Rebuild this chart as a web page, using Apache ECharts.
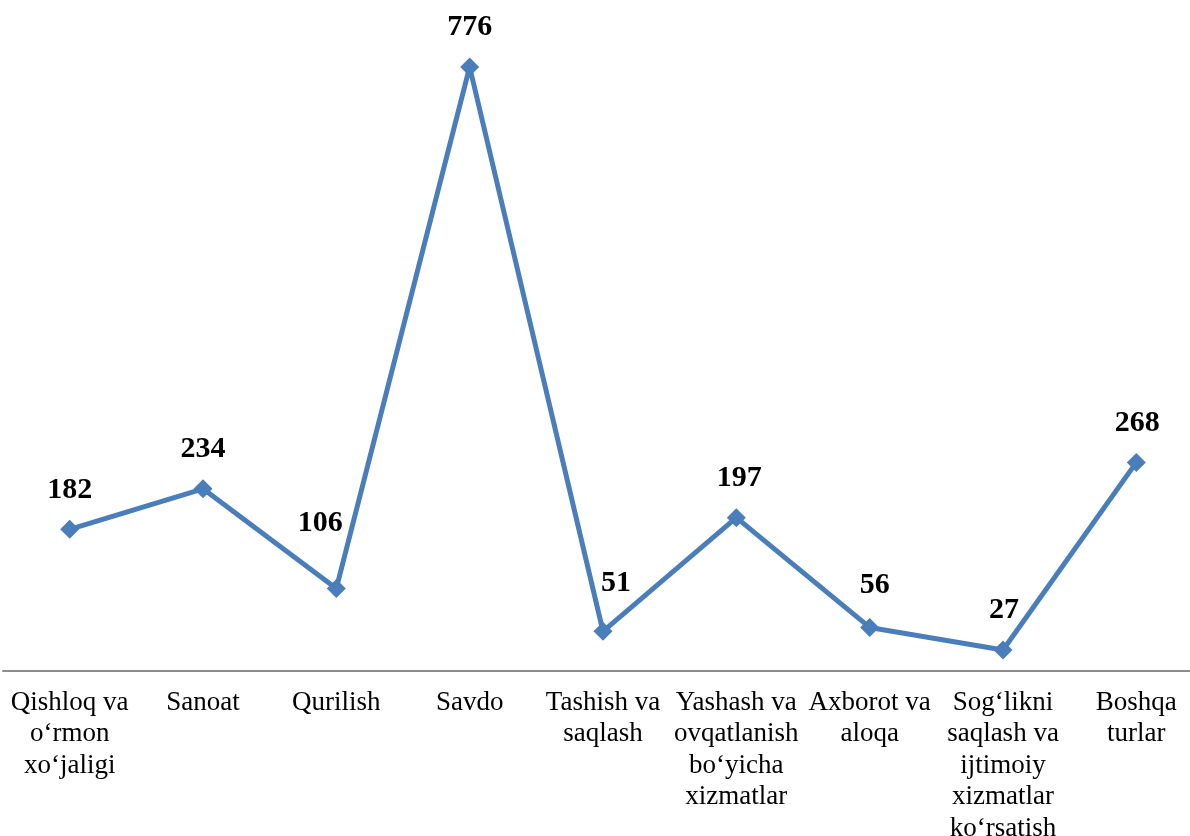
<!DOCTYPE html>
<html><head><meta charset="utf-8">
<script src="https://cdn.jsdelivr.net/npm/echarts@6/dist/echarts.min.js"></script>
<style>html,body{margin:0;padding:0;background:#fff}#c{width:1190px;height:836px}</style>
</head><body><div id="c"></div>
<script>
var categories = ["Qishloq va\no‘rmon\nxo‘jaligi","Sanoat","Qurilish","Savdo","Tashish va\nsaqlash","Yashash va\novqatlanish\nbo‘yicha\nxizmatlar","Axborot va\naloqa","Sog‘likni\nsaqlash va\nijtimoiy\nxizmatlar\nko‘rsatish","Boshqa\nturlar"];
var values = [182,234,106,776,51,197,56,27,268];
var labelOffsets = [[0,0],[0,0],[-16,-26],[0,0],[13,-9],[3,0],[5,-3],[1,0],[1,0]];

var chart = echarts.init(document.getElementById('c'));
chart.setOption({
  animation:false,
  grid:{left:3,right:-13,top:48.3,bottom:165,outerBoundsMode:'none',containLabel:false},
  xAxis:{type:'category',data:categories,boundaryGap:true,
    axisLine:{lineStyle:{color:'#8c8c8c',width:2}},
    axisTick:{show:false},
    axisLabel:{interval:0,color:'#000',fontFamily:'Liberation Serif',fontSize:27,lineHeight:31.5,margin:16,align:'center'}},
  yAxis:{type:'value',min:0,max:800,show:false,splitLine:{show:false}},
  series:[{type:'line',
    data:values.map(function(v,i){return {value:v,label:{offset:labelOffsets[i]}};}),
    symbol:'diamond',symbolSize:19,
    lineStyle:{color:'#4a7ebb',width:5},
    itemStyle:{color:'#4a7ebb'},
    label:{show:true,position:'top',distance:15,color:'#000',fontFamily:'Liberation Serif',fontWeight:'bold',fontSize:30}
  }]
});
</script></body></html>
